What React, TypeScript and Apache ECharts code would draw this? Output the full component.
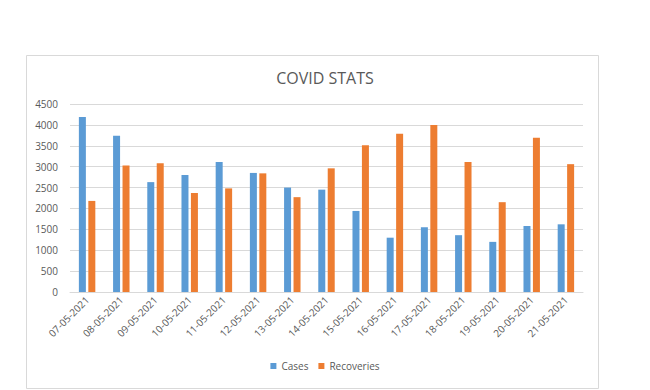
import React, { useEffect, useRef } from "react";
import * as echarts from "echarts";

const categories = [
  "07-05-2021", "08-05-2021", "09-05-2021", "10-05-2021", "11-05-2021",
  "12-05-2021", "13-05-2021", "14-05-2021", "15-05-2021", "16-05-2021",
  "17-05-2021", "18-05-2021", "19-05-2021", "20-05-2021", "21-05-2021",
];
const cases = [4190, 3740, 2630, 2800, 3110, 2850, 2500, 2450, 1940, 1300, 1550, 1360, 1200, 1580, 1620];
const recoveries = [2180, 3030, 3080, 2370, 2480, 2840, 2270, 2960, 3510, 3790, 4000, 3110, 2150, 3690, 3060];

const FONT = "'Open Sans', 'Liberation Sans', sans-serif";
const TEXT = "#595959";

export default function App() {
  const ref = useRef<HTMLDivElement>(null);
  useEffect(() => {
    document.body.style.margin = "0";
    const chart = echarts.init(ref.current!, null, { renderer: "svg" });
    chart.setOption({
      animation: false,
      backgroundColor: "#ffffff",
      textStyle: { fontFamily: FONT, color: TEXT },
      title: {
        text: "COVID STATS",
        left: "center",
        top: 65,
        textStyle: { fontFamily: FONT, fontSize: 16, fontWeight: "normal", color: TEXT },
      },
      graphic: [
        {
          type: "rect",
          shape: { x: 26.5, y: 55.5, width: 572, height: 333 },
          style: { fill: "none", stroke: "#D9D9D9", lineWidth: 1 },
          silent: true,
        },
      ],
      legend: {
        bottom: 14,
        left: "center",
        itemWidth: 6,
        itemHeight: 6,
        itemGap: 10,
        icon: "rect",
        textStyle: { fontFamily: FONT, fontSize: 10, color: TEXT },
        data: ["Cases", "Recoveries"],
      },
      grid: { left: 70, right: 67, top: 104, bottom: 98, containLabel: false },
      xAxis: {
        type: "category",
        data: categories,
        axisLine: { lineStyle: { color: "#D9D9D9" } },
        axisTick: { show: false },
        axisLabel: { rotate: 45, fontFamily: FONT, fontSize: 10, color: TEXT, margin: 6, interval: 0 },
      },
      yAxis: {
        type: "value",
        min: 0,
        max: 4500,
        interval: 500,
        axisLine: { show: false },
        axisTick: { show: false },
        splitLine: { lineStyle: { color: "#D9D9D9" } },
        axisLabel: { fontFamily: FONT, fontSize: 10, color: TEXT, margin: 12, formatter: (v: number) => String(v) },
      },
      series: [
        { name: "Cases", type: "bar", data: cases, barWidth: 7, barGap: "35%", itemStyle: { color: "#5B9BD5" } },
        { name: "Recoveries", type: "bar", data: recoveries, barWidth: 7, itemStyle: { color: "#ED7D31" } },
      ],
    });
    return () => chart.dispose();
  }, []);
  return <div ref={ref} style={{ width: 650, height: 390 }} />;
}
